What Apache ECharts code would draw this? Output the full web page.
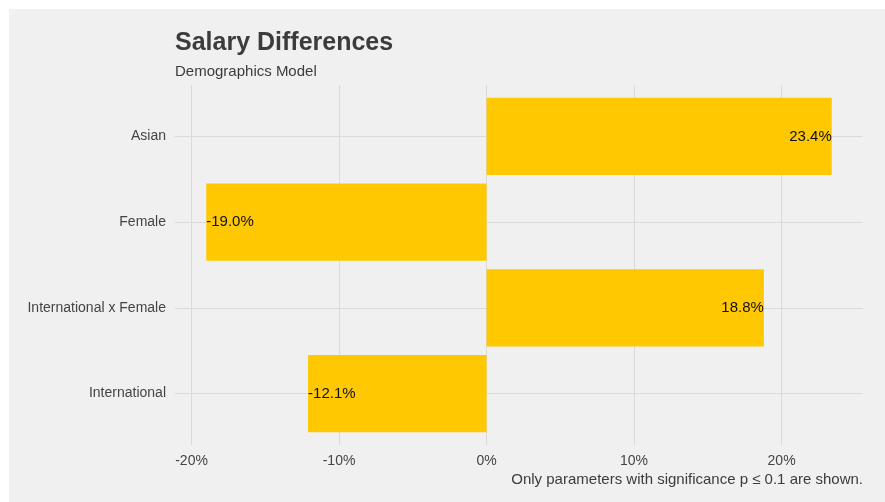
<!DOCTYPE html>
<html>
<head>
<meta charset="utf-8">
<script src="https://cdn.jsdelivr.net/npm/echarts@6/dist/echarts.min.js"></script>
<style>
  html, body { margin: 0; padding: 0; background: #ffffff; }
  #bg { position: absolute; left: 9px; top: 9px; width: 876px; height: 493px; background: #f0f0f0; }
  #chart { position: absolute; left: 0; top: 0; width: 885px; height: 502px; }
</style>
</head>
<body>
<div id="bg"></div>
<div id="chart"></div>
<script>
const categories = ['Asian', 'Female', 'International x Female', 'International'];
const values = [23.4, -19.0, 18.8, -12.1];
const xTicks = [-20, -10, 0, 10, 20];
const yPositions = [1, 2, 3, 4];

const FONT = '"Liberation Sans", Arial, sans-serif';
const chart = echarts.init(document.getElementById('chart'), null, { renderer: 'canvas' });

const data = values.map((v, i) => [v, i + 1]);

chart.setOption({
  backgroundColor: 'transparent',
  animation: false,
  title: {
    text: 'Salary Differences',
    subtext: 'Demographics Model',
    left: 170,
    top: 26,
    itemGap: 8,
    textStyle: { fontFamily: FONT, fontSize: 25, fontWeight: 'bold', color: '#3c3c3c' },
    subtextStyle: { fontFamily: FONT, fontSize: 15, color: '#3c3c3c' }
  },
  graphic: [{
    type: 'text',
    right: 22,
    top: 472,
    style: {
      text: 'Only parameters with significance p \u2264 0.1 are shown.',
      font: '15px ' + FONT,
      fill: '#3c3c3c'
    }
  }],
  grid: { left: 175, right: 22, top: 85, bottom: 57, containLabel: false },
  xAxis: {
    type: 'value',
    min: -21.12,
    max: 25.52,
    axisLine: { show: false },
    axisTick: { show: false, customValues: xTicks },
    axisLabel: {
      customValues: xTicks,
      formatter: v => v + '%',
      fontFamily: FONT, fontSize: 14, color: '#444444', margin: 9
    },
    splitLine: { show: true, lineStyle: { color: '#dadada', width: 1 } }
  },
  yAxis: {
    type: 'value',
    inverse: true,
    min: 0.4,
    max: 4.6,
    axisLine: { show: false },
    axisTick: { show: false, customValues: yPositions },
    axisLabel: {
      customValues: yPositions,
      formatter: v => categories[Math.round(v) - 1] || '',
      fontFamily: FONT, fontSize: 14, color: '#444444', margin: 9
    },
    splitLine: { show: true, lineStyle: { color: '#dadada', width: 1 } }
  },
  series: [{
    type: 'custom',
    data: data,
    encode: { x: 0, y: 1 },
    renderItem: function (params, api) {
      const v = api.value(0);
      const i = api.value(1);
      const p0 = api.coord([0, i]);
      const p1 = api.coord([v, i]);
      const h = Math.abs(api.size([0, 0.9])[1]);
      const pos = v >= 0;
      return {
        type: 'group',
        children: [{
          type: 'rect',
          shape: { x: Math.min(p0[0], p1[0]), y: p0[1] - h / 2, width: Math.abs(p1[0] - p0[0]), height: h },
          style: { fill: '#FFC800' }
        }, {
          type: 'text',
          x: p1[0],
          y: p1[1],
          style: {
            text: v.toFixed(1) + '%',
            align: pos ? 'right' : 'left',
            verticalAlign: 'middle',
            font: '15px ' + FONT,
            fill: '#111111'
          }
        }]
      };
    }
  }]
});
</script>
</body>
</html>
